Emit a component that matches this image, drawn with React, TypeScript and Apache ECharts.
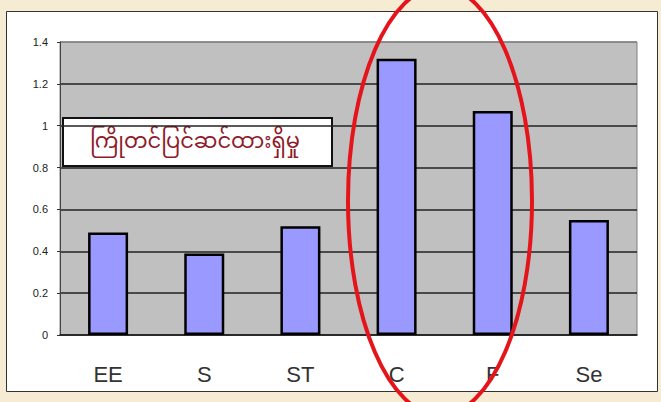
import React, { useEffect, useRef } from "react";
import * as echarts from "echarts";

const categories = ["EE", "S", "ST", "C", "F", "Se"];
const values = [0.49, 0.39, 0.52, 1.32, 1.07, 0.55];
const boxLabel = "ကြိုတင်ပြင်ဆင်ထားရှိမှု";

export default function App() {
  const ref = useRef<HTMLDivElement>(null);
  useEffect(() => {
    document.body.style.margin = "0";
    const chart = echarts.init(ref.current!, null, { renderer: "svg" });
    chart.setOption({
      animation: false,
      backgroundColor: "#F6EBD3",
      grid: {
        left: 60,
        top: 42,
        right: 24,
        bottom: 67,
        show: true,
        backgroundColor: "#C0C0C0",
        borderColor: "#808080",
        borderWidth: 1,
      },
      xAxis: {
        type: "category",
        data: categories,
        axisLine: { lineStyle: { color: "#222", width: 1.5 } },
        axisTick: { inside: true, length: 5, lineStyle: { color: "#222" } },
        axisLabel: {
          fontSize: 22,
          color: "#333",
          fontFamily: "Liberation Sans, Arial, sans-serif",
          margin: 28,
        },
      },
      yAxis: {
        type: "value",
        min: 0,
        max: 1.4,
        interval: 0.2,
        axisLine: { show: true, lineStyle: { color: "#444" } },
        axisTick: { show: true, length: 3, lineStyle: { color: "#333" } },
        axisLabel: {
          fontSize: 11,
          color: "#222",
          fontFamily: "Liberation Sans, Arial, sans-serif",
          margin: 12,
          formatter: (v: number) => String(Math.round(v * 10) / 10),
        },
        splitLine: {
          show: true,
          lineStyle: {
            color: ["#222", "#222", "#222", "#222", "#222", "#222", "#222", "#808080"],
            width: 1.5,
          },
        },
      },
      series: [
        {
          type: "bar",
          data: values,
          barWidth: 40,
          itemStyle: { color: "#9999FF", borderColor: "#000", borderWidth: 2.5 },
        },
      ],
      graphic: [
        {
          type: "rect",
          z: -10,
          shape: { x: 6.5, y: 11.5, width: 651, height: 380 },
          style: { fill: "#FFFFFF", stroke: "#333", lineWidth: 1 },
        },
        {
          type: "group",
          z: 100,
          children: [
            {
              type: "rect",
              shape: { x: 63, y: 118, width: 269, height: 48 },
              style: { fill: "#FFFFFF", stroke: "#111", lineWidth: 2 },
            },
            {
              type: "text",
              x: 195,
              y: 143,
              style: {
                text: boxLabel,
                fontSize: 21,
                fill: "#8E1B2A",
                align: "center",
                verticalAlign: "middle",
                fontFamily: "Noto Sans Myanmar, Padauk, Myanmar Text, sans-serif",
              },
            },
          ],
        },
        {
          type: "ellipse",
          z: 110,
          shape: { cx: 440, cy: 201, rx: 92, ry: 214 },
          style: { fill: "none", stroke: "#E5141B", lineWidth: 4 },
        },
      ],
    });
    return () => chart.dispose();
  }, []);
  return <div ref={ref} style={{ width: 661, height: 402 }} />;
}
